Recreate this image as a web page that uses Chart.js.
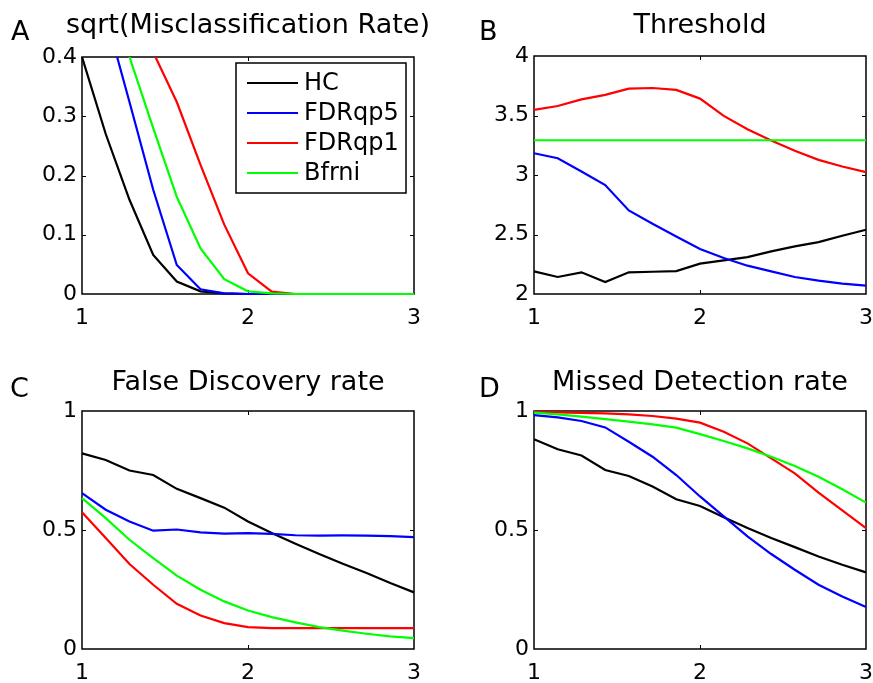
<!DOCTYPE html>
<html>
<head>
<meta charset="utf-8">
<script src="https://cdn.jsdelivr.net/npm/chart.js@4.4.0/dist/chart.umd.min.js"></script>
<style>
  html, body { margin: 0; padding: 0; background: #fff; overflow: hidden; }
  #wrap { position: relative; width: 873px; height: 683px; }
  canvas { position: absolute; }
</style>
</head>
<body>
<div id="wrap">
  <canvas id="chartA" width="436" height="340" style="left:0;top:0"></canvas>
  <canvas id="chartB" width="437" height="340" style="left:436px;top:0"></canvas>
  <canvas id="chartC" width="436" height="343" style="left:0;top:340px"></canvas>
  <canvas id="chartD" width="437" height="343" style="left:436px;top:340px"></canvas>
</div>
<script>
// x positions (signal strength)
const xs = [1, 1.143, 1.286, 1.429, 1.571, 1.714, 1.857, 2, 2.143, 2.286, 2.429, 2.571, 2.714, 2.857, 3];
const seriesNames = ["HC", "FDRqp5", "FDRqp1", "Bfrni"];
const seriesColors = ["#000000", "#0000ff", "#ff0000", "#00ff00"];

// A: sqrt(Misclassification Rate)
const hcA    = [0.40, 0.27, 0.159, 0.066, 0.021, 0.0045, 0.001, 0, 0, 0, 0, 0, 0, 0, 0];
const fdr5A  = [0.62, 0.47, 0.324, 0.176, 0.049, 0.008, 0.001, 0, 0, 0, 0, 0, 0, 0, 0];
const fdr1A  = [0.72, 0.60, 0.50, 0.408, 0.324, 0.218, 0.117, 0.035, 0.004, 0, 0, 0, 0, 0, 0];
const bfA    = [0.66, 0.52, 0.40, 0.28, 0.164, 0.077, 0.025, 0.0045, 0.001, 0, 0, 0, 0, 0, 0];

// B: Threshold
const hcB    = [2.190, 2.143, 2.182, 2.101, 2.182, 2.187, 2.193, 2.255, 2.283, 2.310, 2.358, 2.400, 2.436, 2.490, 2.540];
const fdr5B  = [3.183, 3.141, 3.029, 2.915, 2.702, 2.590, 2.484, 2.378, 2.302, 2.238, 2.190, 2.143, 2.112, 2.087, 2.070];
const fdr1B  = [3.547, 3.580, 3.636, 3.673, 3.726, 3.731, 3.715, 3.642, 3.497, 3.385, 3.290, 3.203, 3.127, 3.071, 3.024];
const bfB    = [3.292, 3.292, 3.292, 3.292, 3.292, 3.292, 3.292, 3.292, 3.292, 3.292, 3.292, 3.292, 3.292, 3.292, 3.292];

// C: False Discovery rate
const hcC    = [0.822, 0.794, 0.750, 0.731, 0.673, 0.634, 0.594, 0.536, 0.487, 0.442, 0.399, 0.358, 0.319, 0.277, 0.238];
const fdr5C  = [0.655, 0.585, 0.536, 0.497, 0.502, 0.490, 0.485, 0.487, 0.484, 0.478, 0.476, 0.477, 0.476, 0.474, 0.470];
const fdr1C  = [0.575, 0.466, 0.357, 0.270, 0.190, 0.141, 0.109, 0.092, 0.088, 0.088, 0.088, 0.088, 0.088, 0.088, 0.088];
const bfC    = [0.634, 0.550, 0.459, 0.382, 0.308, 0.249, 0.200, 0.162, 0.134, 0.112, 0.092, 0.077, 0.064, 0.053, 0.046];

// D: Missed Detection rate
const hcD    = [0.881, 0.839, 0.813, 0.752, 0.727, 0.683, 0.629, 0.601, 0.554, 0.508, 0.466, 0.428, 0.389, 0.354, 0.322];
const fdr5D  = [0.983, 0.973, 0.958, 0.931, 0.871, 0.808, 0.731, 0.641, 0.557, 0.473, 0.399, 0.333, 0.270, 0.221, 0.176];
const fdr1D  = [0.997, 0.994, 0.992, 0.990, 0.986, 0.979, 0.968, 0.951, 0.913, 0.864, 0.801, 0.738, 0.657, 0.582, 0.508];
const bfD    = [0.993, 0.986, 0.976, 0.966, 0.955, 0.944, 0.930, 0.903, 0.874, 0.843, 0.808, 0.769, 0.724, 0.671, 0.615];

// tick labels
const xTicks  = [1, 2, 3];
const yTicksA = [0, 0.1, 0.2, 0.3, 0.4];
const yTicksB = [2, 2.5, 3, 3.5, 4];
const yTicksCD = [0, 0.5, 1];

const FONT = "'DejaVu Sans', 'Liberation Sans', Arial, sans-serif";

// box + inward ticks, MATLAB style
const boxPlugin = {
    id: "boxPlugin",
    beforeDatasetsDraw(chart) {
        const { ctx, chartArea: a } = chart;
        const xs_ = chart.scales.x, ys_ = chart.scales.y;
        const tl = 4;
        ctx.save();
        ctx.strokeStyle = "#000";
        ctx.lineWidth = 1.5;
        ctx.strokeRect(a.left, a.top, a.right - a.left, a.bottom - a.top);
        ctx.lineWidth = 1;
        ctx.beginPath();
        xs_.ticks.forEach(t => {
            const px = Math.round(xs_.getPixelForValue(t.value)) + 0.5;
            if (px <= a.left + 1 || px >= a.right - 1) return;
            ctx.moveTo(px, a.bottom); ctx.lineTo(px, a.bottom - tl);
            ctx.moveTo(px, a.top); ctx.lineTo(px, a.top + tl);
        });
        ys_.ticks.forEach(t => {
            const py = Math.round(ys_.getPixelForValue(t.value)) + 0.5;
            if (py <= a.top + 1 || py >= a.bottom - 1) return;
            ctx.moveTo(a.left, py); ctx.lineTo(a.left + tl, py);
            ctx.moveTo(a.right, py); ctx.lineTo(a.right - tl, py);
        });
        ctx.stroke();
        ctx.restore();
    }
};

// title, panel letter and (optional) legend
const textPlugin = {
    id: "panelText",
    afterDraw(chart, args, opts) {
        const { ctx, chartArea: a } = chart;
        ctx.save();
        ctx.fillStyle = "#000";
        ctx.textBaseline = "alphabetic";
        ctx.font = "27px " + FONT;
        ctx.textAlign = "center";
        ctx.fillText(opts.title, (a.left + a.right) / 2, opts.titleY);
        ctx.font = "27px " + FONT;
        ctx.textAlign = "left";
        ctx.fillText(opts.letter, opts.letterX, opts.letterY);
        if (opts.legend) {
            const L = opts.legend;
            ctx.fillStyle = "#fff";
            ctx.fillRect(L.x, L.y, L.w, L.h);
            ctx.strokeStyle = "#000";
            ctx.lineWidth = 1.5;
            ctx.strokeRect(L.x, L.y, L.w, L.h);
            ctx.font = "24px " + FONT;
            ctx.textBaseline = "middle";
            chart.data.datasets.forEach((ds, i) => {
                const y = L.y + 20 + i * 30;
                ctx.strokeStyle = ds.borderColor;
                ctx.lineWidth = 2.2;
                ctx.beginPath();
                ctx.moveTo(L.x + 11, y); ctx.lineTo(L.x + 62, y);
                ctx.stroke();
                ctx.fillStyle = "#000";
                ctx.fillText(ds.label, L.x + 68, y + 1);
            });
        }
        ctx.restore();
    }
};

function makeChart(id, series, yMin, yMax, yTicks, geom, text) {
    const datasets = series.map((vals, i) => ({
        label: seriesNames[i],
        data: vals.map((v, k) => ({ x: xs[k], y: v })),
        borderColor: seriesColors[i],
        backgroundColor: seriesColors[i],
        borderWidth: 2.2,
        pointRadius: 0,
        tension: 0,
        fill: false,
        order: 4 - i,
        clip: { left: 1, top: 0, right: 2, bottom: 2 }
    }));
    return new Chart(document.getElementById(id), {
        type: "line",
        data: { datasets },
        plugins: [boxPlugin, textPlugin],
        options: {
            responsive: false,
            animation: false,
            layout: { padding: { left: 0, top: geom.top, right: geom.right, bottom: 0 } },
            plugins: {
                legend: { display: false },
                tooltip: { enabled: false },
                panelText: text
            },
            scales: {
                x: {
                    type: "linear", min: 1, max: 3,
                    grid: { display: false, drawTicks: false }, border: { display: false },
                    afterBuildTicks: s => { s.ticks = xTicks.map(v => ({ value: v })); },
                    afterFit: s => { s.height = geom.xh; s.paddingLeft = 0; s.paddingRight = 0; },
                    ticks: { color: "#000", font: { family: FONT, size: 22 }, padding: 11, maxRotation: 0, autoSkip: false,
                             callback: v => String(v) }
                },
                y: {
                    type: "linear", min: yMin, max: yMax,
                    grid: { display: false, drawTicks: false }, border: { display: false },
                    afterBuildTicks: s => { s.ticks = yTicks.map(v => ({ value: v })); },
                    afterFit: s => { s.width = geom.yw; s.paddingTop = 0; s.paddingBottom = 0; },
                    ticks: { color: "#000", font: { family: FONT, size: 22 }, padding: 5, autoSkip: false,
                             callback: v => String(v) }
                }
            }
        }
    });
}

makeChart("chartA", [hcA, fdr5A, fdr1A, bfA], 0, 0.4, yTicksA,
    { top: 57, right: 22, xh: 46, yw: 82 },
    { title: "sqrt(Misclassification Rate)", titleY: 33, letter: "A", letterX: 11, letterY: 40,
      legend: { x: 236, y: 63, w: 170, h: 130 } });
makeChart("chartB", [hcB, fdr5B, fdr1B, bfB], 2, 4, yTicksB,
    { top: 56, right: 7, xh: 46, yw: 98 },
    { title: "Threshold", titleY: 33, letter: "B", letterX: 43, letterY: 40 });
makeChart("chartC", [hcC, fdr5C, fdr1C, bfC], 0, 1, yTicksCD,
    { top: 71, right: 22, xh: 34, yw: 82 },
    { title: "False Discovery rate", titleY: 50, letter: "C", letterX: 10, letterY: 57 });
makeChart("chartD", [hcD, fdr5D, fdr1D, bfD], 0, 1, yTicksCD,
    { top: 71, right: 7, xh: 34, yw: 98 },
    { title: "Missed Detection rate", titleY: 50, letter: "D", letterX: 43, letterY: 57 });
</script>
</body>
</html>
